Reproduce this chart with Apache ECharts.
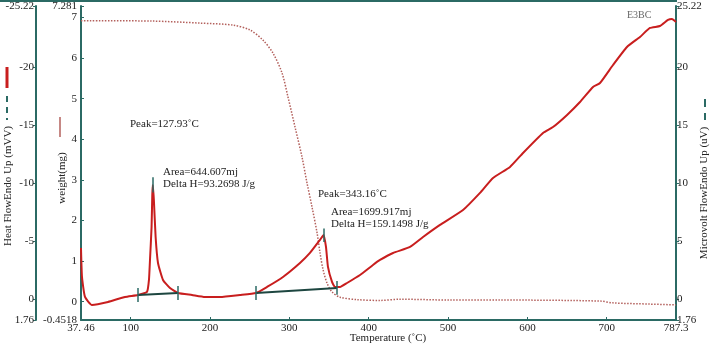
<!DOCTYPE html>
<html>
<head>
<meta charset="utf-8">
<script src="https://cdn.jsdelivr.net/npm/echarts@6/dist/echarts.min.js"></script>
<style>
  html, body { margin: 0; padding: 0; background: #fff; }
  #chart { width: 720px; height: 345px; }
</style>
</head>
<body>
<div id="chart"></div>
<script>
// heat flow curve (mW, endo up => negative up)
var hfTemp = [37.46, 38.7, 42.5, 51.3, 71.5, 92.9, 109.3, 120.6, 123.1, 124.4, 126.4, 127.3, 127.93, 129.3, 131.5, 134.5, 140.8, 149.6, 159.7,
  177.3, 193.7, 212.6, 237.8, 258.0, 271.9, 292.0, 313.4, 326.0, 338.6, 343.16, 346.2, 348.7, 353.8, 357.5, 363.9, 372.7, 389.1,
  405.4, 414.3, 430.7, 452.1, 468.5, 489.9, 518.9, 540.3, 556.7, 578.1, 594.5, 619.7, 632.3, 650.0, 666.3, 682.7, 691.5, 707.9,
  725.5, 741.9, 754.5, 767.1, 777.2, 782.2, 787.3];
var hfVals = [-4.43, -1.94, -0.22, 0.47, 0.21, -0.22, -0.39, -0.65, -1.68, -3.40, -6.23, -9.0, -9.84, -8.55, -5.37, -3.14, -1.68, -0.99, -0.56,
  -0.39, -0.22, -0.22, -0.39, -0.56, -1.08, -1.94, -3.14, -4.0, -5.12, -5.55, -4.52, -2.80, -1.51, -1.08, -1.08, -1.42, -2.11,
  -2.97, -3.40, -4.0, -4.52, -5.37, -6.41, -7.69, -9.16, -10.44, -11.39, -12.59, -14.31, -14.82, -15.86, -16.97, -18.26, -18.60, -20.15,
  -21.70, -22.56, -23.33, -23.50, -24.02, -24.10, -23.85];

// weight curve (mg)
var wTemp = [37.46, 126.9, 187.4, 229.0, 250.4, 266.8, 279.4, 290.8, 298.3, 307.2, 316.0, 322.3, 328.6, 335.0, 338.7, 342.6, 347.5,
  353.8, 363.9, 385.3, 414.3, 439.5, 502.5, 565.5, 691.5, 707.9, 754.5, 787.3];
var wVals = [6.92, 6.91, 6.86, 6.81, 6.69, 6.44, 6.12, 5.63, 5.04, 4.30, 3.56, 2.92, 2.33, 1.69, 1.20, 0.78, 0.46,
  0.24, 0.11, 0.05, 0.03, 0.06, 0.04, 0.04, 0.015, -0.03, -0.06, -0.08];

// integration baselines [temp, heat flow]
var baseline1 = [[109.3, -0.39], [159.7, -0.56]];
var baseline2 = [[258.0, -0.56], [360.1, -1.0]];
var peakMarks = [[127.93, -10.5, -9.2], [343.16, -6.1, -4.95]];

var xTicks = [37.46, 100, 200, 300, 400, 500, 600, 700, 787.3];
var wTicks = [-0.4518, 0, 1, 2, 3, 4, 5, 6, 7, 7.281];
var hfTicks = [-25.22, -20, -15, -10, -5, 0, 1.76];
var uvTicks = [-1.76, 0, 5, 10, 15, 20, 25.22];

var axisColor = '#2b6a64';
var serif = 'Liberation Serif';
var txt = '#222';

function pairs(xs, ys) {
  return xs.map(function (x, i) { return [x, ys[i]]; });
}

var chart = echarts.init(document.getElementById('chart'), null, { renderer: 'canvas' });

function tickLines(list) {
  var out = [];
  list.forEach(function (p) {
    out.push([{ coord: [p[0], p[1] - 0.6] }, { coord: [p[0], p[1] + 0.6] }]);
  });
  return out;
}

var option = {
  animation: false,
  textStyle: { fontFamily: serif },
  grid: { left: 81, right: 44, top: 6, bottom: 25, outerBoundsMode: 'none', containLabel: false },
  xAxis: {
    type: 'value',
    min: 37.46,
    max: 787.3,
    axisLine: { onZero: false, lineStyle: { color: axisColor, width: 2 } },
    axisTick: { show: true, inside: true, length: 3, customValues: xTicks, lineStyle: { color: axisColor } },
    axisLabel: {
      customValues: xTicks, color: txt, fontSize: 11, fontFamily: serif, margin: 3,
      formatter: function (v) { return v === 37.46 ? '37. 46' : String(v); }
    },
    splitLine: { show: false }
  },
  yAxis: [
    {
      type: 'value', position: 'left', offset: 0,
      min: -0.4518, max: 7.281,
      axisLine: { show: true, onZero: false, lineStyle: { color: axisColor, width: 2 } },
      axisTick: { show: true, inside: true, length: 3, customValues: wTicks, lineStyle: { color: axisColor } },
      axisLabel: { customValues: wTicks, color: txt, fontSize: 11, fontFamily: serif, margin: 4 },
      splitLine: { show: false }
    },
    {
      type: 'value', position: 'left', offset: 45, inverse: true,
      min: -25.22, max: 1.76,
      axisLine: { show: true, onZero: false, lineStyle: { color: axisColor, width: 2 } },
      axisTick: { show: true, length: 3, customValues: hfTicks, lineStyle: { color: axisColor } },
      axisLabel: { customValues: hfTicks, color: txt, fontSize: 11, fontFamily: serif, margin: 2 },
      splitLine: { show: false }
    },
    {
      type: 'value', position: 'right', offset: 0,
      min: -1.76, max: 25.22,
      axisLine: { show: true, onZero: false, lineStyle: { color: axisColor, width: 2 } },
      axisTick: { show: true, length: 3, customValues: uvTicks, lineStyle: { color: axisColor } },
      axisLabel: {
        customValues: uvTicks, color: txt, fontSize: 11, fontFamily: serif, margin: 1,
        formatter: function (v) { return v === -1.76 ? '1.76' : String(v); }
      },
      splitLine: { show: false }
    }
  ],
  series: [
    {
      name: 'weight', type: 'line', yAxisIndex: 0, smooth: 0.3, symbol: 'none',
      lineStyle: { color: '#b3605c', width: 1.5, type: 'dotted' },
      data: pairs(wTemp, wVals)
    },
    {
      name: 'heat flow', type: 'line', yAxisIndex: 1, smooth: 0.15, symbol: 'none',
      lineStyle: { color: '#c81e1e', width: 2 },
      data: pairs(hfTemp, hfVals)
    },
    {
      name: 'baseline1', type: 'line', yAxisIndex: 1, symbol: 'none',
      lineStyle: { color: '#1d4640', width: 2 },
      data: baseline1,
      markLine: {
        silent: true, symbol: 'none', label: { show: false },
        lineStyle: { color: axisColor, width: 1.5, type: 'solid' },
        data: tickLines(baseline1.concat(baseline2)).concat(peakMarks.map(function (p) {
          return [{ coord: [p[0], p[1]] }, { coord: [p[0], p[2]] }];
        }))
      }
    },
    {
      name: 'baseline2', type: 'line', yAxisIndex: 1, symbol: 'none',
      lineStyle: { color: '#1d4640', width: 2 },
      data: baseline2
    }
  ],
  graphic: [
    { type: 'line', shape: { x1: 0, y1: 1, x2: 677, y2: 1 }, style: { stroke: axisColor, lineWidth: 2 } },
    { type: 'text', x: 388, y: 338, style: { text: 'Temperature (˚C)', font: '11px "Liberation Serif"', fill: txt, align: 'center', verticalAlign: 'middle' } },
    { type: 'text', rotation: Math.PI / 2, x: 8, y: 186, style: { text: 'Heat FlowEndo Up (mVV)', font: '11px "Liberation Serif"', fill: txt, align: 'center', verticalAlign: 'middle' } },
    { type: 'text', rotation: Math.PI / 2, x: 62, y: 178, style: { text: 'weight(mg)', font: '11px "Liberation Serif"', fill: txt, align: 'center', verticalAlign: 'middle' } },
    { type: 'text', rotation: Math.PI / 2, x: 704, y: 193, style: { text: 'Microvolt FlowEndo Up (uV)', font: '11px "Liberation Serif"', fill: txt, align: 'center', verticalAlign: 'middle' } },
    { type: 'line', shape: { x1: 7, y1: 67, x2: 7, y2: 88 }, style: { stroke: '#c81e1e', lineWidth: 3 } },
    { type: 'line', shape: { x1: 7, y1: 96, x2: 7, y2: 120 }, style: { stroke: axisColor, lineWidth: 2, lineDash: [6, 5] } },
    { type: 'line', shape: { x1: 60, y1: 117, x2: 60, y2: 137 }, style: { stroke: '#b3605c', lineWidth: 1.5 } },
    { type: 'line', shape: { x1: 705, y1: 99, x2: 705, y2: 120 }, style: { stroke: axisColor, lineWidth: 2, lineDash: [8, 6] } },
    { type: 'text', x: 627, y: 15, style: { text: 'E3BC', font: '10px "Liberation Serif"', fill: '#666', verticalAlign: 'middle' } },
    { type: 'text', x: 130, y: 124, style: { text: 'Peak=127.93˚C', font: '11px "Liberation Serif"', fill: txt, verticalAlign: 'middle' } },
    { type: 'text', x: 163, y: 172, style: { text: 'Area=644.607mj', font: '11px "Liberation Serif"', fill: txt, verticalAlign: 'middle' } },
    { type: 'text', x: 163, y: 184, style: { text: 'Delta H=93.2698 J/g', font: '11px "Liberation Serif"', fill: txt, verticalAlign: 'middle' } },
    { type: 'text', x: 318, y: 194, style: { text: 'Peak=343.16˚C', font: '11px "Liberation Serif"', fill: txt, verticalAlign: 'middle' } },
    { type: 'text', x: 331, y: 212, style: { text: 'Area=1699.917mj', font: '11px "Liberation Serif"', fill: txt, verticalAlign: 'middle' } },
    { type: 'text', x: 331, y: 224, style: { text: 'Delta H=159.1498 J/g', font: '11px "Liberation Serif"', fill: txt, verticalAlign: 'middle' } }
  ]
};

chart.setOption(option);
</script>
</body>
</html>
